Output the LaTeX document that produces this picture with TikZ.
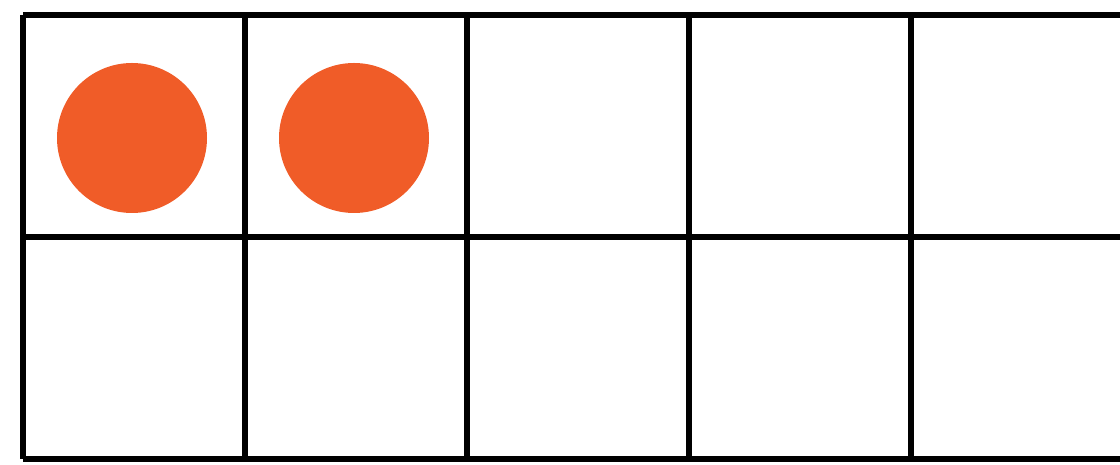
\documentclass[tikz,border=0pt]{standalone}
\usepackage{xcolor}
\usepackage{tikz}
\usetikzlibrary{positioning}
\definecolor{morange}{RGB}{240,92,40}

\begin{document}
\begin{tikzpicture}[x=1cm, y=1cm,
  frame/.style={draw=black, line width=1.7pt},
  counter/.style={fill=morange, draw=none, circle, minimum size=1.5cm, inner sep=0pt}]

  % canvas and clipping (the frame runs past the right edge)
  \useasboundingbox (0,0) rectangle (11.2,4.65);
  \clip (0,0) rectangle (11.2,4.65);

  % ── TEN FRAME ── 2 rows x 5 columns
  \foreach \x in {0.23, 2.45, 4.67, 6.89, 9.11, 11.33}
    \draw[frame] (\x, 0.06) -- (\x, 4.50);
  \foreach \y in {0.06, 2.28, 4.50}
    \draw[frame] (0.23, \y) -- (11.33, \y);

  % ── COUNTERS ── top row
  \node[counter] (c1) at (1.32, 3.27) {};
  \node[counter] (c2) at (3.54, 3.27) {};

\end{tikzpicture}
\end{document}
